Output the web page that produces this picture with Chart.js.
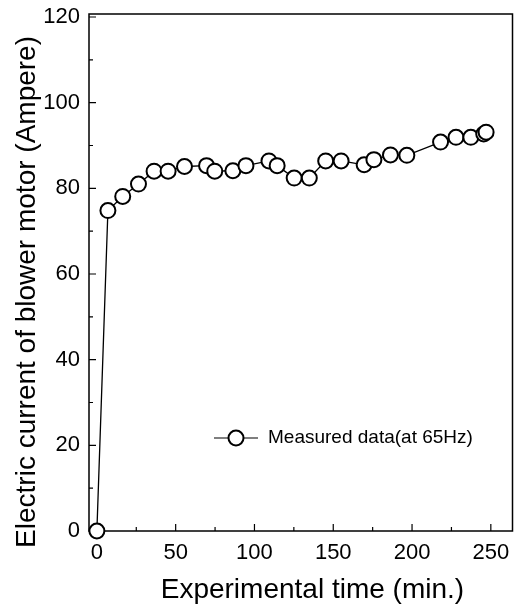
<!DOCTYPE html>
<html>
<head>
<meta charset="utf-8">
<script src="https://cdn.jsdelivr.net/npm/chart.js@4.4.0/dist/chart.umd.min.js"></script>
<style>
  html, body { margin: 0; padding: 0; background: #fff; }
  #wrap { width: 522px; height: 608px; }
</style>
</head>
<body>
<div id="wrap"><canvas id="myChart"></canvas></div>
<script>
// time in minutes, current in ampere
const timeMin = [0, 7, 16.4, 26.4, 36.3, 45.2, 55.6, 69.6, 74.8, 86.3, 94.6, 109.2, 114.4, 125.2, 134.8, 145.2, 155, 169.6, 175.8, 186.3, 196.7, 218.1, 227.9, 237.3, 245.5, 247];
const current = [0, 74.8, 78.1, 81.0, 84.0, 84.0, 85.1, 85.3, 84.0, 84.1, 85.3, 86.4, 85.3, 82.4, 82.4, 86.4, 86.4, 85.5, 86.7, 87.8, 87.7, 90.8, 91.9, 91.9, 92.7, 93.1];
const xTicks = [0, 50, 100, 150, 200, 250];
const yTicks = [0, 20, 40, 60, 80, 100, 120];

const points = timeMin.map((t, i) => ({ x: t, y: current[i] }));

const fontFam = "'Liberation Sans', Arial, sans-serif";

// box frame + inward ticks, and the little legend inside the plot
const framePlugin = {
  id: 'frame',
  beforeDatasetsDraw(chart) {
    const { ctx, chartArea: a, scales } = chart;
    ctx.save();
    ctx.strokeStyle = '#000';
    ctx.lineWidth = 1.5;
    ctx.strokeRect(a.left, a.top, a.right - a.left, a.bottom - a.top);
    ctx.lineWidth = 1.2;
    ctx.beginPath();
    for (let v = 0; v <= 260; v += 25) {
      const px = scales.x.getPixelForValue(v);
      const len = v % 50 === 0 ? 7 : 4;
      ctx.moveTo(px, a.bottom);
      ctx.lineTo(px, a.bottom - len);
    }
    for (let v = 0; v <= 120; v += 10) {
      const py = scales.y.getPixelForValue(v);
      const len = v % 20 === 0 ? 7 : 4;
      ctx.moveTo(a.left, py);
      ctx.lineTo(a.left + len, py);
    }
    ctx.stroke();
    ctx.restore();
  },
  afterDraw(chart) {
    const { ctx, chartArea: a } = chart;
    const lx = a.left + 125, ly = a.top + 424;
    ctx.save();
    ctx.strokeStyle = '#000';
    ctx.lineWidth = 1.2;
    ctx.beginPath();
    ctx.moveTo(lx, ly);
    ctx.lineTo(lx + 44, ly);
    ctx.stroke();
    ctx.beginPath();
    ctx.arc(lx + 22, ly, 7.5, 0, Math.PI * 2);
    ctx.fillStyle = '#fff';
    ctx.fill();
    ctx.lineWidth = 2;
    ctx.stroke();
    ctx.fillStyle = '#000';
    ctx.font = '19px ' + fontFam;
    ctx.textBaseline = 'middle';
    ctx.fillText(chart.data.datasets[0].label, lx + 54, ly);
    ctx.restore();
  }
};

const config = {
  type: 'scatter',
  data: {
    datasets: [{
      label: 'Measured data(at 65Hz)',
      data: points,
      showLine: true,
      borderColor: '#000',
      borderWidth: 1.3,
      pointRadius: 7.5,
      pointBorderWidth: 2,
      pointBackgroundColor: '#fff',
      pointBorderColor: '#000',
      clip: false
    }]
  },
  options: {
    responsive: false,
    animation: false,
    layout: { padding: { top: 14, right: 3, left: 0, bottom: 0 } },
    plugins: {
      legend: { display: false },
      tooltip: { enabled: false }
    },
    scales: {
      x: {
        type: 'linear',
        min: -5,
        max: 263.75,
        afterBuildTicks: (s) => { s.ticks = xTicks.map(v => ({ value: v })); },
        afterFit: (s) => { s.height = 77; s.paddingLeft = 0; s.paddingRight = 0; },
        grid: { display: false, drawTicks: false },
        border: { display: false },
        ticks: { color: '#000', font: { family: fontFam, size: 22 }, padding: 9, maxRotation: 0 },
        title: {
          display: true,
          text: '\u00a0\u00a0\u00a0Experimental time (min.)',
          color: '#000',
          font: { family: fontFam, size: 28 },
          padding: { top: 0, bottom: 1 }
        }
      },
      y: {
        type: 'linear',
        min: 0,
        max: 120.7,
        afterBuildTicks: (s) => { s.ticks = yTicks.map(v => ({ value: v })); },
        afterFit: (s) => { s.width = 89; s.paddingTop = 0; s.paddingBottom = 0; },
        grid: { display: false, drawTicks: false },
        border: { display: false },
        ticks: { color: '#000', font: { family: fontFam, size: 22 }, padding: 9 },
        title: {
          display: true,
          text: 'Electric current of blower motor (Ampere)\u00a0\u00a0\u00a0\u00a0\u00a0',
          color: '#000',
          font: { family: fontFam, size: 28 },
          padding: { top: 10, bottom: 0 }
        }
      }
    }
  },
  plugins: [framePlugin]
};

const canvas = document.getElementById('myChart');
canvas.width = 522;
canvas.height = 608;
let myChart = new Chart(canvas, config);
</script>
</body>
</html>
